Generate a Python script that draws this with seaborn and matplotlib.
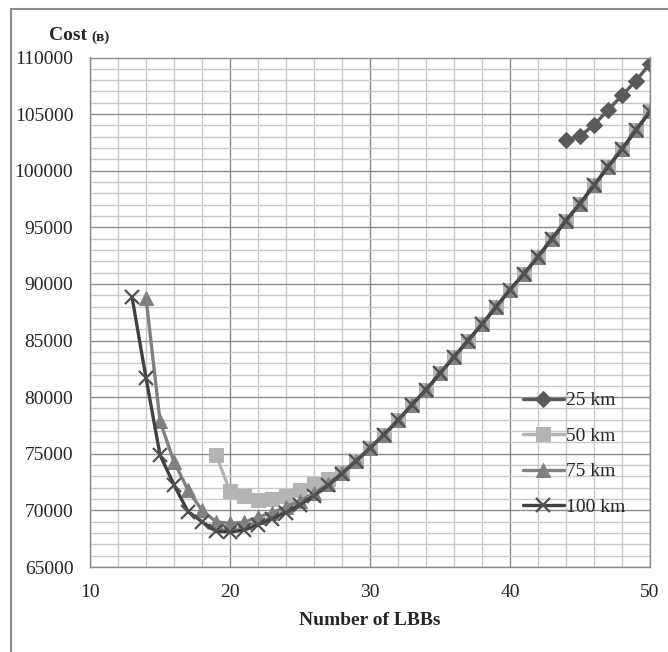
import pandas as pd
import matplotlib
matplotlib.use("Agg")
import matplotlib.pyplot as plt
from matplotlib.patches import Rectangle
from matplotlib.ticker import MultipleLocator
import seaborn as sns

sns.set_style("white")
plt.rcParams['font.family'] = ['Liberation Serif', 'DejaVu Serif']

# values
lbbs_25 = [44, 45, 46, 47, 48, 49, 50]
cost_25 = [102700, 103050, 104050, 105350, 106650, 107950, 109450]

lbbs_50 = list(range(19, 51))
cost_50 = [74900, 71700, 71250, 70900, 71000, 71300, 71800, 72300, 72800, 73400,
           74400, 75500, 76700, 77950, 79350, 80650, 82100, 83550, 85000, 86450,
           87950, 89500, 90900, 92400, 94000, 95600, 97100, 98700, 100350, 101900,
           103600, 105250]

lbbs_75 = list(range(14, 51))
cost_75 = [88800, 77900, 74300, 71800, 70000, 69000, 68850, 68950, 69400, 69800,
           70300, 70850, 71500, 72350, 73300, 74400, 75500, 76700, 77950, 79350,
           80650, 82100, 83550, 85000, 86450, 87950, 89500, 90900, 92400, 94000,
           95600, 97100, 98700, 100350, 101900, 103600, 105250]

lbbs_100 = list(range(13, 51))
cost_100 = [88850, 81700, 74900, 72250, 69900, 69000, 68150, 68100, 68250, 68750,
            69250, 69800, 70500, 71300, 72200, 73250, 74350, 75500, 76700, 77950,
            79350, 80650, 82100, 83550, 85000, 86450, 87950, 89500, 90900, 92400,
            94000, 95600, 97100, 98700, 100350, 101900, 103600, 105200]

names = ['25 km', '50 km', '75 km', '100 km']

df = pd.concat([
    pd.DataFrame({'lbbs': lbbs_25, 'cost': cost_25, 'dist': '25 km'}),
    pd.DataFrame({'lbbs': lbbs_50, 'cost': cost_50, 'dist': '50 km'}),
    pd.DataFrame({'lbbs': lbbs_75, 'cost': cost_75, 'dist': '75 km'}),
    pd.DataFrame({'lbbs': lbbs_100, 'cost': cost_100, 'dist': '100 km'}),
])

styles = {
    '25 km': dict(color='#5a5a5a', marker='D', markersize=8, markeredgecolor='#5a5a5a'),
    '50 km': dict(color='#b4b4b4', marker='s', markersize=10, markeredgecolor='#b4b4b4'),
    '75 km': dict(color='#808080', marker='^', markersize=10, markeredgecolor='#808080'),
    '100 km': dict(color='#414141', marker='x', markersize=10, markeredgewidth=1.6,
                   markeredgecolor='#505050'),
}

fig = plt.figure(figsize=(6.68, 6.52), dpi=100)
ax = fig.add_axes([90 / 668, 1 - 567 / 652, 560 / 668, 509.5 / 652])

for name in names:
    sns.lineplot(data=df[df['dist'] == name], x='lbbs', y='cost', ax=ax,
                 linewidth=2.4, label=name, **styles[name])

ax.set_xlim(10, 50)
ax.set_ylim(65000, 110000)
ax.set_xticks(range(10, 51, 10))
ax.set_yticks(range(65000, 110001, 5000))
ax.set_yticklabels([str(v) for v in range(65000, 110001, 5000)])
ax.xaxis.set_minor_locator(MultipleLocator(2))
ax.yaxis.set_minor_locator(MultipleLocator(1000))
ax.grid(which='major', color='#8c8c8c', linewidth=1.0)
ax.grid(which='minor', color='#c8c8c8', linewidth=1.0)
ax.set_axisbelow(True)
ax.tick_params(which='major', labelsize=14, length=6, color='#8c8c8c', pad=6)
ax.tick_params(which='minor', length=0)
for s in ax.spines.values():
    s.set_color('#8c8c8c')
    s.set_linewidth(1.0)

ax.set_xlabel('Number of LBBs', fontsize=14, fontweight='bold', labelpad=8)
ax.set_ylabel('')
fig.text(49 / 668, 1 - 36 / 652, 'Cost', fontsize=14, fontweight='bold', va='center')
fig.text(91 / 668, 1 - 37 / 652, '(в)', fontsize=11, fontweight='bold', va='center')

leg = ax.legend(loc='center left', bbox_to_anchor=(0.773, 0.222), frameon=False,
                fontsize=14, handlelength=2.1, handletextpad=0.1, labelspacing=0.92,
                borderpad=0, borderaxespad=0)

# outer chart frame
fig.patches.append(Rectangle((11 / 668, -0.1), 1.2, 1.1 - 9 / 652,
                             transform=fig.transFigure, fill=False,
                             edgecolor='#8c8c8c', linewidth=1.5))

fig.savefig('out.png', dpi=100)
